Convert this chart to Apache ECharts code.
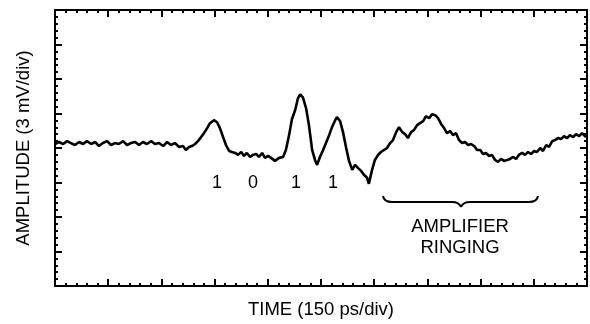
<!DOCTYPE html>
<html>
<head>
<meta charset="utf-8">
<script src="https://cdn.jsdelivr.net/npm/echarts@6/dist/echarts.min.js"></script>
<style>
html,body{margin:0;padding:0;background:#fff;}
#c{width:590px;height:324px;}
</style>
</head>
<body>
<div id="c"></div>
<script>
// Time axis (ps), 150 ps/div, 10 divisions
var timePs = [0,11,23,34,45,56,68,79,90,102,113,124,135,147,158,169,180,192,203,214,226,237,248,259,271,282,293,305,316,327,338,350,361,369,378,386,395,403,412,420,429,437,448,457,465,474,482,491,499,508,516,525,533,541,550,558,567,575,584,592,601,609,620,632,643,651,660,668,677,685,691,699,708,716,725,733,739,747,756,764,773,781,790,795,804,812,821,829,838,846,854,863,871,880,885,894,902,911,919,928,936,945,953,962,970,979,987,995,1004,1012,1021,1029,1038,1046,1055,1063,1072,1080,1089,1097,1105,1114,1122,1131,1139,1148,1156,1165,1173,1182,1190,1199,1207,1215,1224,1232,1241,1249,1258,1266,1275,1283,1292,1300,1308,1317,1325,1334,1342,1351,1359,1368,1376,1385,1393,1402,1410,1418,1427,1435,1444,1452,1461,1469,1478,1486,1497];
// Amplitude (mV), 3 mV/div
var amplitudeMv = [0.35,0.52,0.35,0.60,0.43,0.26,0.52,0.35,0.60,0.35,0.52,0.17,0.43,0.60,0.26,0.43,0.35,0.60,0.26,0.43,0.52,0.26,0.52,0.35,0.60,0.35,0.43,0.17,0.52,0.26,0.43,0.09,0.17,-0.17,0.09,0.17,0.35,0.60,0.95,1.29,1.73,2.16,2.42,2.24,1.73,0.95,0.26,-0.26,-0.35,-0.43,-0.60,-0.35,-0.69,-0.43,-0.78,-0.60,-0.52,-0.78,-0.43,-0.86,-0.69,-0.86,-1.12,-0.86,-0.78,-0.17,1.12,2.50,3.28,4.32,4.66,4.40,3.45,1.99,-0.17,-1.04,-1.47,-0.78,-0.17,0.43,1.12,1.81,2.42,2.68,2.33,1.38,0,-1.12,-1.90,-1.47,-1.73,-1.99,-2.33,-2.59,-3.11,-1.90,-1.04,-0.60,-0.35,-0.17,0,0.43,0.69,1.38,1.81,1.38,1.21,0.86,1.38,1.55,1.99,2.16,2.33,2.76,2.59,2.93,2.85,2.59,2.07,1.73,1.29,1.47,1.12,1.29,0.69,0.43,0.52,0.26,0.35,0.17,-0.17,-0.17,-0.52,-0.43,-0.69,-0.60,-1.04,-1.21,-0.95,-1.12,-1.04,-0.95,-0.78,-0.95,-0.60,-0.43,-0.60,-0.35,-0.52,-0.26,-0.35,0,-0.26,0.26,0.09,0.60,0.69,0.86,0.78,1.04,0.86,1.12,0.95,1.21,1.04,1.29,0.95];
var bitLabels = ['1','0','1','1'];
var xTitle = 'TIME (150 ps/div)';
var yTitle = 'AMPLITUDE (3 mV/div)';
var noteLines = ['AMPLIFIER','RINGING'];

var FONT = '"Liberation Sans", Arial, Helvetica, sans-serif';
var seriesData = timePs.map(function(t,i){return [t, amplitudeMv[i]];});

function axisCommon(extra){
  var a = {
    type:'value',
    axisLine:{show:true,onZero:false,lineStyle:{color:'#000',width:2}},
    axisTick:{show:true,inside:true,length:7,lineStyle:{color:'#000',width:2}},
    minorTick:{show:true,splitNumber:5,length:3,lineStyle:{color:'#000',width:2}},
    axisLabel:{show:false},
    splitLine:{show:false},
    minorSplitLine:{show:false}
  };
  for (var k in extra) a[k]=extra[k];
  return a;
}

var chart = echarts.init(document.getElementById('c'), null, {renderer:'canvas'});
var bitX = [217,253,296,333];
var graphics = bitLabels.map(function(s,i){
  return {type:'text', x:bitX[i], y:183, style:{text:s, font:'18px '+FONT, fill:'#000', align:'center', verticalAlign:'middle'}};
});
graphics.push({type:'text', x:460, y:227, style:{text:noteLines[0], font:'18.5px '+FONT, fill:'#000', align:'center', verticalAlign:'middle'}});
graphics.push({type:'text', x:460, y:248, style:{text:noteLines[1], font:'18.5px '+FONT, fill:'#000', align:'center', verticalAlign:'middle'}});
var braceStyle = {fill:null, stroke:'#000', lineWidth:2};
graphics.push({type:'bezierCurve', shape:{x1:383,y1:196,x2:392,y2:202,cpx1:384,cpy1:202}, style:braceStyle});
graphics.push({type:'line', shape:{x1:392,y1:202,x2:452,y2:202}, style:braceStyle});
graphics.push({type:'bezierCurve', shape:{x1:452,y1:202,x2:461,y2:207,cpx1:459,cpy1:202}, style:braceStyle});
graphics.push({type:'bezierCurve', shape:{x1:461,y1:207,x2:470,y2:202,cpx1:463,cpy1:202}, style:braceStyle});
graphics.push({type:'line', shape:{x1:470,y1:202,x2:529,y2:202}, style:braceStyle});
graphics.push({type:'bezierCurve', shape:{x1:529,y1:202,x2:538,y2:196,cpx1:537,cpy1:202}, style:braceStyle});

chart.setOption({
  animation:false,
  backgroundColor:'#fff',
  grid:{left:55,right:3,top:10,bottom:37,containLabel:false},
  xAxis:[
    axisCommon({position:'bottom',min:0,max:1500,interval:150,name:xTitle,nameLocation:'middle',nameGap:14,
      nameTextStyle:{color:'#000',fontSize:18.5,fontFamily:FONT,verticalAlign:'top'}}),
    axisCommon({position:'top',min:0,max:1500,interval:150})
  ],
  yAxis:[
    axisCommon({position:'left',min:-12,max:12,interval:3,name:yTitle,nameLocation:'middle',nameGap:22,
      nameTextStyle:{color:'#000',fontSize:18.5,fontFamily:FONT}}),
    axisCommon({position:'right',min:-12,max:12,interval:3})
  ],
  series:[{
    type:'line', xAxisIndex:0, yAxisIndex:0, data:seriesData,
    showSymbol:false, symbol:'none', smooth:false,
    lineStyle:{color:'#000',width:2.6}
  }],
  graphic:graphics
});
</script>
</body>
</html>
